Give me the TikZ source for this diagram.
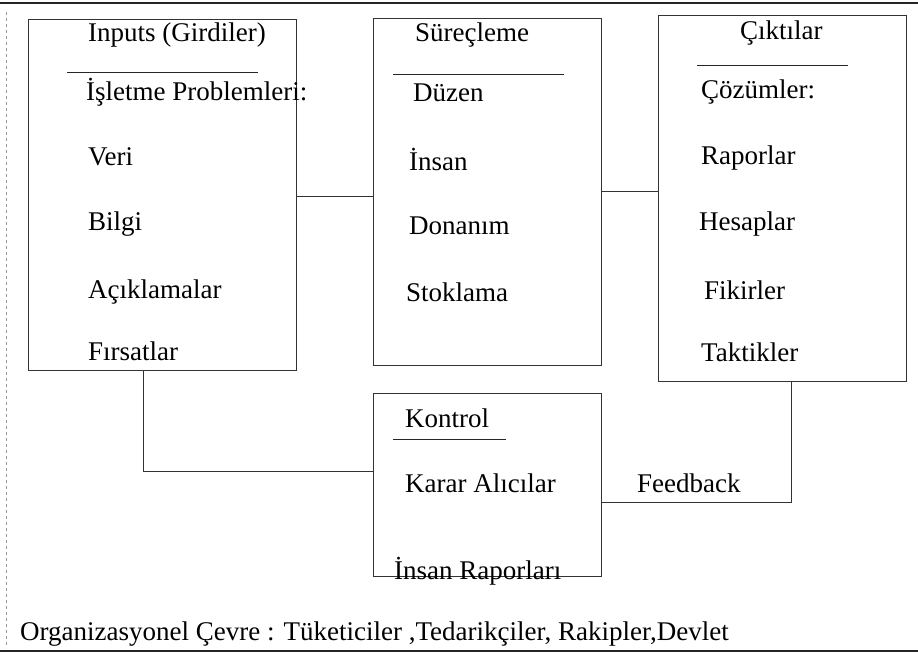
\documentclass[tikz,border=0pt]{standalone}
\usepackage{fontspec}
\setmainfont{Liberation Serif}
\begin{document}
\begin{tikzpicture}[x=1pt,y=-1pt,
  box/.style={draw=black!80,line width=0.7pt,rectangle,inner sep=0pt},
  lbl/.style={anchor=west,inner sep=0pt,font=\fontsize{27}{31}\selectfont},
  rule/.style={draw=black!85,line width=1.1pt},
  link/.style={draw=black!80,line width=0.7pt},
  uline/.style={draw=black!85,line width=0.8pt},
  faint/.style={draw=black!40,line width=0.5pt,dashed}]
\useasboundingbox (0,0) rectangle (918,657);

% page rules
\draw[rule] (0,3) -- (918,3);
\draw[rule] (0,651) -- (918,651);
\draw[faint] (6,12) -- (6,648);

% the four boxes
\node[box,minimum width=268pt,minimum height=351pt] (inp)  at (162,194.5) {};
\node[box,minimum width=228pt,minimum height=347pt] (proc) at (487,191.5) {};
\node[box,minimum width=248pt,minimum height=366pt] (out)  at (782,198) {};
\node[box,minimum width=228pt,minimum height=183pt] (ctrl) at (487,484.5) {};

% Inputs
\node[lbl] (i0) at (88,35) {Inputs (Girdiler)};
\draw[uline] (67,72) -- (258,72);
\node[lbl] (i1) at (86,92) {İşletme Problemleri:};
\node[lbl] (i2) at (88,157) {Veri};
\node[lbl] (i3) at (88,224) {Bilgi};
\node[lbl] (i4) at (88,292) {Açıklamalar};
\node[lbl] (i5) at (88,351) {Fırsatlar};

% Süreçleme
\node[lbl] (p0) at (415,35) {Süreçleme};
\draw[uline] (393,74) -- (564,74);
\node[lbl] (p1) at (413,93) {Düzen};
\node[lbl] (p2) at (409,159) {İnsan};
\node[lbl] (p3) at (409,226) {Donanım};
\node[lbl] (p4) at (406,292) {Stoklama};

% Çıktılar
\node[lbl] (o0) at (740,33) {Çıktılar};
\draw[uline] (697,65) -- (848,65);
\node[lbl] (o1) at (701,92) {Çözümler:};
\node[lbl] (o2) at (701,158) {Raporlar};
\node[lbl] (o3) at (699,224) {Hesaplar};
\node[lbl] (o4) at (704,290) {Fikirler};
\node[lbl] (o5) at (701,352) {Taktikler};

% Kontrol (its bottom edge runs through the last line of text)
\node[lbl] (c0) at (405,418) {Kontrol};
\draw[uline] (393,439) -- (506,439);
\node[lbl] (c1) at (405,483) {Karar Alıcılar};
\node[lbl] (c2) at (394,571) {İnsan Raporları};

% connectors
\coordinate (ip) at (0,196);
\coordinate (po) at (0,191);
\coordinate (ic) at (143,471);
\coordinate (fb) at (791,502);
\draw[link] (inp.east |- ip) -- (proc.west |- ip);
\draw[link] (proc.east |- po) -- (out.west |- po);
\draw[link] (inp.south -| ic) -- (ic) -- (ctrl.west |- ic);
\draw[link] (out.south -| fb) -- (fb) -- (ctrl.east |- fb);
\node[lbl] (fbl) at (637,483) {Feedback};

% environment line
\node[lbl] (env) at (20,634) {Organizasyonel Çevre : Tüketiciler ,Tedarikçiler, Rakipler,Devlet};
\end{tikzpicture}
\end{document}
